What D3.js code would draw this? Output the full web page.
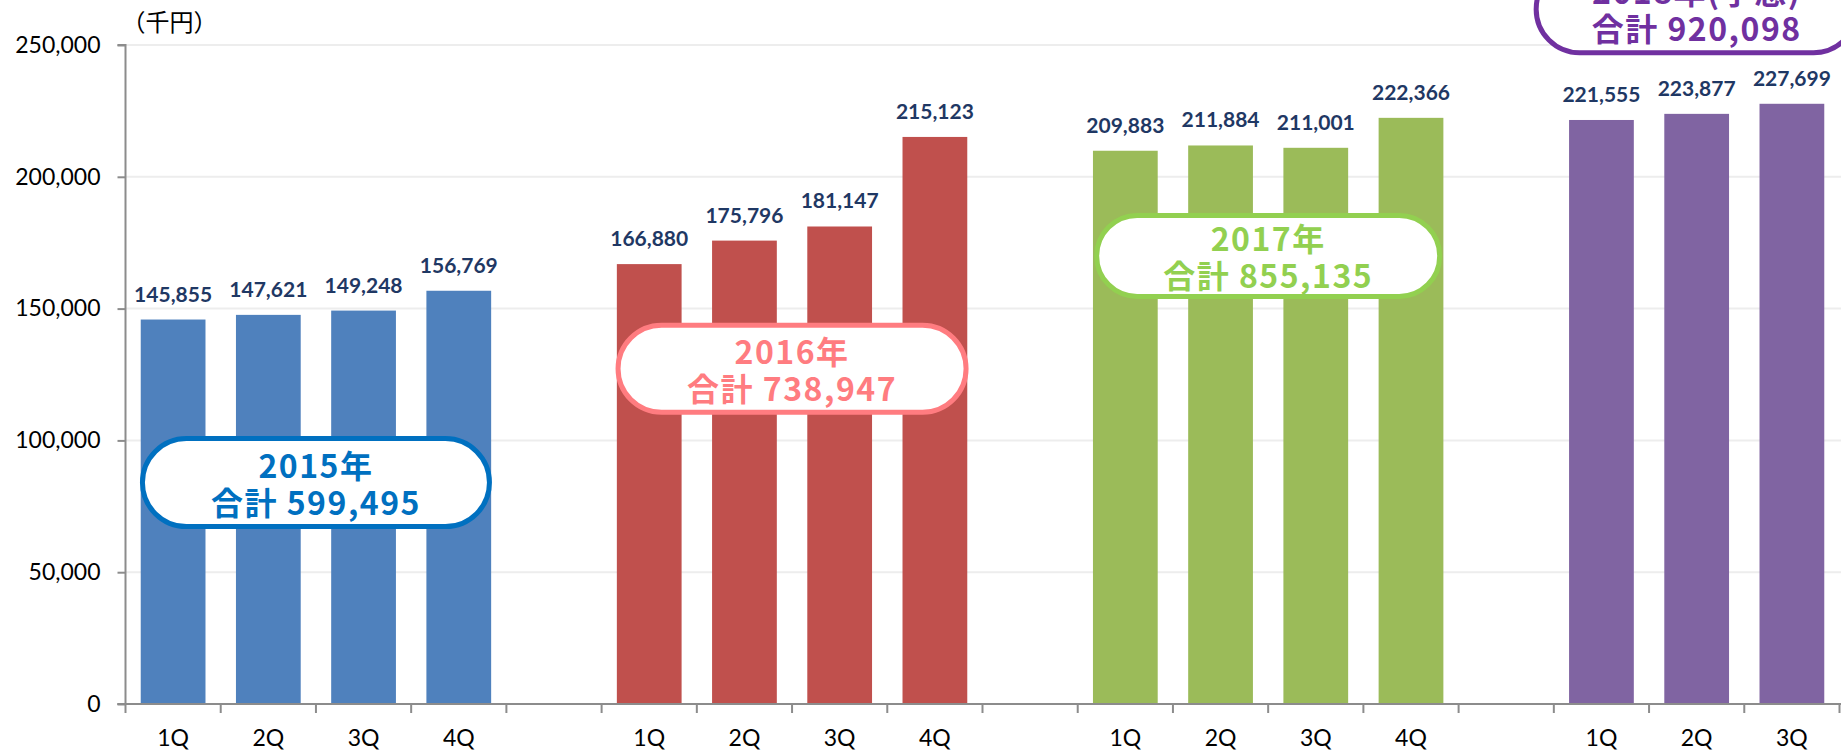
<!DOCTYPE html>
<html>
<head>
<meta charset="utf-8">
<script src="https://cdn.jsdelivr.net/npm/d3@7"></script>
<style>
  body { margin: 0; background: #fff; }
  svg { display: block; }
</style>
</head>
<body>
<script>
// données : ventes trimestrielles (千円)
var quarters = ["1Q", "2Q", "3Q", "4Q"];
var years = ["2015年", "2016年", "2017年", "2018年(予想)"];
var sales2015 = [145855, 147621, 149248, 156769];
var sales2016 = [166880, 175796, 181147, 215123];
var sales2017 = [209883, 211884, 211001, 222366];
var sales2018 = [221555, 223877, 227699];
var totals = [599495, 738947, 855135, 920098];
var yTicks = [0, 50000, 100000, 150000, 200000, 250000];
var unitLabel = "（千円）";

var salesByYear = [sales2015, sales2016, sales2017, sales2018];

// couleurs
var barColors = ["#4F81BD", "#C0504D", "#9BBB59", "#8064A2"];
var boxColors = ["#0070C0", "#FF7C80", "#92D050", "#7030A0"];

// la taille du SVG
var width = 1841, height = 753;
var margin = {top: 45, left: 125.5, right: 1.5, bottom: 49};

// une catégorie par trimestre, plus une case vide entre les années
var rows = [];
salesByYear.forEach(function(vals, yi) {
  vals.forEach(function(v, qi) {
    rows.push({key: yi + "-" + qi, q: quarters[qi], v: v, year: yi});
  });
  if (yi < salesByYear.length - 1) rows.push({key: "gap" + yi, q: "", v: null, year: yi});
});

var x = d3.scaleBand()
  .domain(rows.map(function(d) { return d.key; }))
  .range([margin.left, width - margin.right])
  .paddingInner(0.32)
  .paddingOuter(0.16);

var y = d3.scaleLinear()
  .domain([0, 250000])
  .range([height - margin.bottom, margin.top]);

var svg = d3.select("body").append("svg")
  .attr("width", width)
  .attr("height", height);

var fmt = d3.format(",");

// grille
svg.append("g").attr("class", "grid")
  .selectAll("line")
  .data(yTicks.filter(function(d) { return d > 0; }))
  .enter().append("line")
  .attr("x1", margin.left)
  .attr("x2", width)
  .attr("y1", function(d) { return y(d); })
  .attr("y2", function(d) { return y(d); })
  .attr("stroke", "#EDEDED")
  .attr("stroke-width", 2);

// barres
var data = rows.filter(function(d) { return d.v !== null; });

svg.append("g").attr("class", "bars")
  .selectAll("rect")
  .data(data)
  .enter().append("rect")
  .attr("x", function(d) { return x(d.key); })
  .attr("width", x.bandwidth())
  .attr("y", function(d) { return y(d.v); })
  .attr("height", function(d) { return y(0) - y(d.v); })
  .attr("fill", function(d) { return barColors[d.year]; });

// étiquettes de valeur
svg.append("g").attr("class", "values")
  .selectAll("text")
  .data(data)
  .enter().append("text")
  .attr("x", function(d) { return x(d.key) + x.bandwidth() / 2; })
  .attr("y", function(d) { return y(d.v) - 18; })
  .attr("text-anchor", "middle")
  .style("font-family", "Lato, 'Open Sans', sans-serif")
  .style("font-weight", "700")
  .style("font-size", "21px")
  .style("fill", "#1F3864")
  .text(function(d) { return fmt(d.v); });

// axe Y
var yAxis = d3.axisLeft(y)
  .tickValues(yTicks)
  .tickFormat(fmt)
  .tickSize(8)
  .tickPadding(17);

var yAxisG = svg.append("g")
  .attr("class", "y axis")
  .attr("transform", "translate(" + margin.left + ",0)")
  .call(yAxis);

yAxisG.selectAll("path, line").attr("stroke", "#8C8C8C").attr("stroke-width", 2);
yAxisG.select(".domain").attr("d", "M-8," + y(250000) + "H0V" + y(0) + "H-8");
yAxisG.selectAll("text")
  .style("font-family", "Lato, sans-serif")
  .style("font-size", "23px")
  .style("fill", "#000");

// axe X : ligne, graduations entre les catégories, libellés
var step = x.step();
var xAxisG = svg.append("g").attr("class", "x axis");

xAxisG.append("line")
  .attr("x1", margin.left - 8)
  .attr("x2", width)
  .attr("y1", y(0))
  .attr("y2", y(0))
  .attr("stroke", "#8C8C8C")
  .attr("stroke-width", 2);

var bounds = rows.map(function(d) { return x(d.key) - step * x.paddingInner() / 2; });
bounds.push(bounds[bounds.length - 1] + step);

xAxisG.selectAll("line.tick")
  .data(bounds)
  .enter().append("line")
  .attr("class", "tick")
  .attr("x1", function(d) { return d; })
  .attr("x2", function(d) { return d; })
  .attr("y1", y(0))
  .attr("y2", y(0) + 9)
  .attr("stroke", "#8C8C8C")
  .attr("stroke-width", 2);

xAxisG.selectAll("text")
  .data(rows.filter(function(d) { return d.q !== ""; }))
  .enter().append("text")
  .attr("x", function(d) { return x(d.key) + x.bandwidth() / 2; })
  .attr("y", y(0) + 42)
  .attr("text-anchor", "middle")
  .style("font-family", "Lato, sans-serif")
  .style("font-size", "23px")
  .style("fill", "#000")
  .text(function(d) { return d.q; });

// unité
svg.append("text")
  .attr("x", margin.left - 4)
  .attr("y", 31)
  .style("font-family", "'Noto Sans CJK JP', sans-serif")
  .style("font-size", "24px")
  .style("fill", "#000")
  .text(unitLabel);

// bulles des totaux annuels (position : limite de catégorie, valeur en 千円)
var callouts = [
  {at: 2,    v: 84000,  w: 347, h: 88},
  {at: 7,    v: 127150, w: 348, h: 87},
  {at: 12,   v: 170000, w: 343, h: 81},
  {at: 16.5, v: 263600, w: 321, h: 87}
];

var boxes = svg.append("g").attr("class", "callouts")
  .selectAll("g")
  .data(callouts)
  .enter().append("g")
  .attr("transform", function(d) {
    return "translate(" + (margin.left + step * d.at) + "," + y(d.v) + ")";
  });

boxes.append("rect")
  .attr("x", function(d) { return -d.w / 2; })
  .attr("y", function(d) { return -d.h / 2; })
  .attr("width", function(d) { return d.w; })
  .attr("height", function(d) { return d.h; })
  .attr("rx", function(d) { return d.h / 2; })
  .attr("fill", "#fff")
  .attr("stroke", function(d, i) { return boxColors[i]; })
  .attr("stroke-width", 5);

boxes.each(function(d, i) {
  var g = d3.select(this);
  var lines = [years[i], "合計 " + fmt(totals[i])];
  g.selectAll("text")
    .data(lines)
    .enter().append("text")
    .attr("x", 0)
    .attr("y", function(t, j) { return j === 0 ? -5 : 32; })
    .attr("text-anchor", "middle")
    .style("font-family", "'Noto Sans CJK JP', sans-serif")
    .style("font-weight", "700")
    .style("font-size", "32px")
    .style("letter-spacing", "1.5px")
    .style("fill", boxColors[i])
    .text(function(t) { return t; });
});
</script>
</body>
</html>
